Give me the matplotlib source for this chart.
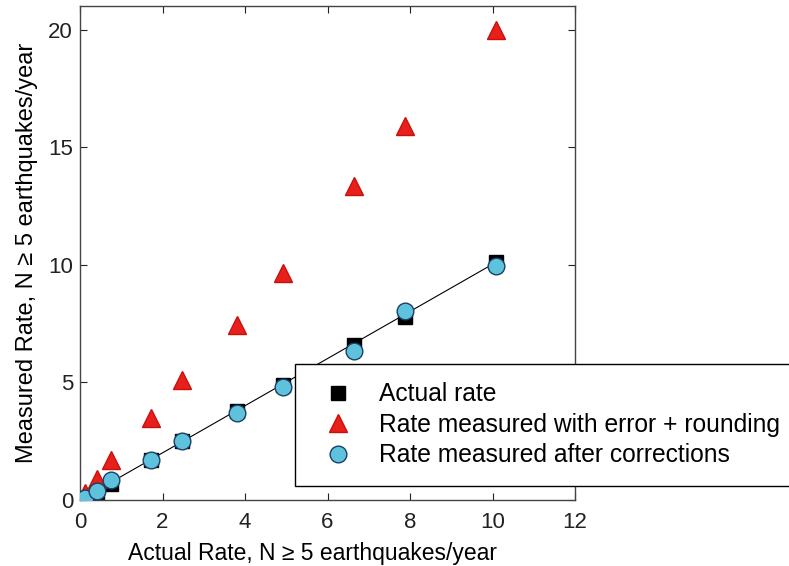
import matplotlib
matplotlib.use("Agg")
import matplotlib.pyplot as plt

plt.rcParams['font.family'] = ['Liberation Sans', 'DejaVu Sans']

actual_x = [0.12, 0.42, 0.75, 1.72, 2.48, 3.8, 4.92, 6.65, 7.88, 10.08]
actual_y = [0.1, 0.35, 0.7, 1.7, 2.5, 3.8, 4.9, 6.6, 7.8, 10.1]
measured_y = [0.3, 0.9, 1.7, 3.5, 5.1, 7.45, 9.65, 13.35, 15.9, 20.0]
corrected_y = [0.1, 0.4, 0.85, 1.7, 2.5, 3.7, 4.8, 6.35, 8.05, 9.95]

labels = ["Actual rate", "Rate measured with error + rounding",
          "Rate measured after corrections"]
xticks = [0, 2, 4, 6, 8, 10, 12]
yticks = [0, 5, 10, 15, 20]

fig = plt.figure(figsize=(7.89, 5.66), dpi=100)
ax = fig.add_axes([80/789, 1-500/566, 495/789, 494/566])

ax.plot([0, actual_x[-1]], [0, actual_y[-1]], color='black', lw=0.8, zorder=1)
ax.plot(actual_x, actual_y, 's', color='black', ms=10, ls='none', label=labels[0], zorder=2)
ax.plot(actual_x, measured_y, '^', color='#e8201c', mec='#c8100c', ms=13, ls='none', label=labels[1], zorder=3)
ax.plot(actual_x, corrected_y, 'o', color='#5ec2dc', mec='#1b3f66', mew=1.0, ms=12, ls='none', label=labels[2], zorder=4)

ax.set_xlim(0, 12)
ax.set_ylim(0, 21)
ax.set_xticks(xticks)
ax.set_yticks(yticks)
ax.tick_params(direction='in', top=True, right=True, length=5, labelsize=16, width=0.8, colors='#222222')
ax.tick_params(axis='x', pad=9)
ax.tick_params(axis='y', pad=5)
for s in ax.spines.values():
    s.set_color('#444444')
    s.set_linewidth(1.0)

ax.set_xlabel("Actual Rate, N ≥ 5 earthquakes/year", fontsize=16.5)
ax.set_ylabel("Measured Rate, N ≥ 5 earthquakes/year", fontsize=17, labelpad=7)
ax.xaxis.set_label_coords((312 - 80) / 495, -(560 - 500) / 494)
ax.xaxis.label.set_va('baseline')

leg = fig.legend(loc='upper left', bbox_to_anchor=(295/789, 1-364/566), fontsize=17.7,
                 frameon=True, fancybox=False, edgecolor='black', framealpha=1,
                 borderpad=0.75, handletextpad=0.66, labelspacing=0.26, borderaxespad=0,
                 markerscale=1.0)
leg.get_frame().set_linewidth(1.0)

fig.savefig("out.png", dpi=100)
